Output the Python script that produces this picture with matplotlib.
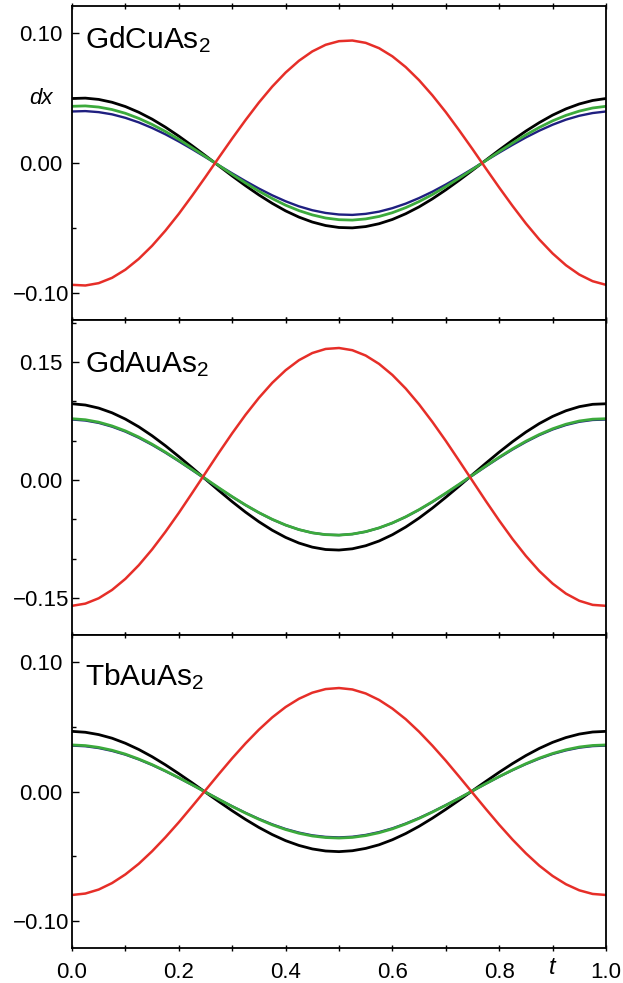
import numpy as np
import matplotlib
matplotlib.use("Agg")
import matplotlib.pyplot as plt
from matplotlib.ticker import MultipleLocator

plt.rcParams['font.family'] = ['Liberation Sans', 'DejaVu Sans']
plt.rcParams['mathtext.fontset'] = 'custom'
plt.rcParams['mathtext.rm'] = 'Liberation Sans'
plt.rcParams['mathtext.it'] = 'Liberation Sans:italic'

# ---- data ----
t = [0.000, 0.025, 0.050, 0.075, 0.100, 0.125, 0.150, 0.175, 0.200, 0.225,
     0.250, 0.275, 0.300, 0.325, 0.350, 0.375, 0.400, 0.425, 0.450, 0.475,
     0.500, 0.525, 0.550, 0.575, 0.600, 0.625, 0.650, 0.675, 0.700, 0.725,
     0.750, 0.775, 0.800, 0.825, 0.850, 0.875, 0.900, 0.925, 0.950, 0.975, 1.000]

compounds = ['GdCuAs$_\\mathregular{2}$', 'GdAuAs$_\\mathregular{2}$', 'TbAuAs$_\\mathregular{2}$']

# GdCuAs2
gdcu_black = [0.0497, 0.0500, 0.0490, 0.0468, 0.0435, 0.0391, 0.0338, 0.0276, 0.0207, 0.0133,
              0.0056, -0.0022, -0.0100, -0.0175, -0.0246, -0.0311, -0.0369, -0.0417, -0.0455, -0.0482,
              -0.0497, -0.0500, -0.0490, -0.0468, -0.0435, -0.0391, -0.0338, -0.0276, -0.0207, -0.0133,
              -0.0056, 0.0022, 0.0100, 0.0175, 0.0246, 0.0311, 0.0369, 0.0417, 0.0455, 0.0482, 0.0497]
gdcu_blue = [0.0397, 0.0400, 0.0392, 0.0375, 0.0348, 0.0313, 0.0270, 0.0221, 0.0166, 0.0107,
             0.0045, -0.0018, -0.0080, -0.0140, -0.0197, -0.0249, -0.0295, -0.0334, -0.0364, -0.0385,
             -0.0397, -0.0400, -0.0392, -0.0375, -0.0348, -0.0313, -0.0270, -0.0221, -0.0166, -0.0107,
             -0.0045, 0.0018, 0.0080, 0.0140, 0.0197, 0.0249, 0.0295, 0.0334, 0.0364, 0.0385, 0.0397]
gdcu_green = [0.0437, 0.0440, 0.0431, 0.0412, 0.0383, 0.0344, 0.0297, 0.0243, 0.0182, 0.0117,
              0.0050, -0.0019, -0.0088, -0.0154, -0.0217, -0.0274, -0.0325, -0.0367, -0.0400, -0.0424,
              -0.0437, -0.0440, -0.0431, -0.0412, -0.0383, -0.0344, -0.0297, -0.0243, -0.0182, -0.0117,
              -0.0050, 0.0019, 0.0088, 0.0154, 0.0217, 0.0274, 0.0325, 0.0367, 0.0400, 0.0424, 0.0437]
gdcu_red = [-0.0939, -0.0944, -0.0926, -0.0885, -0.0822, -0.0739, -0.0638, -0.0521, -0.0392, -0.0252,
            -0.0107, 0.0042, 0.0189, 0.0331, 0.0466, 0.0589, 0.0697, 0.0788, 0.0860, 0.0911,
            0.0939, 0.0944, 0.0926, 0.0885, 0.0822, 0.0739, 0.0638, 0.0521, 0.0392, 0.0252,
            0.0107, -0.0042, -0.0189, -0.0331, -0.0466, -0.0589, -0.0697, -0.0788, -0.0860, -0.0911, -0.0939]

# GdAuAs2
gdau_black = [0.0970, 0.0954, 0.0915, 0.0855, 0.0775, 0.0677, 0.0563, 0.0436, 0.0299, 0.0157,
              0.0011, -0.0134, -0.0275, -0.0408, -0.0530, -0.0638, -0.0729, -0.0801, -0.0853, -0.0883,
              -0.0890, -0.0874, -0.0835, -0.0775, -0.0695, -0.0597, -0.0483, -0.0356, -0.0219, -0.0077,
              0.0069, 0.0214, 0.0355, 0.0488, 0.0610, 0.0718, 0.0809, 0.0881, 0.0933, 0.0963, 0.0970]
gdau_blue = [0.0770, 0.0757, 0.0727, 0.0679, 0.0616, 0.0538, 0.0448, 0.0348, 0.0240, 0.0127,
             0.0012, -0.0103, -0.0214, -0.0319, -0.0415, -0.0501, -0.0573, -0.0630, -0.0671, -0.0694,
             -0.0700, -0.0687, -0.0657, -0.0609, -0.0546, -0.0468, -0.0378, -0.0278, -0.0170, -0.0057,
             0.0058, 0.0173, 0.0284, 0.0389, 0.0485, 0.0571, 0.0643, 0.0700, 0.0741, 0.0764, 0.0770]
gdau_green = [0.0780, 0.0767, 0.0736, 0.0688, 0.0625, 0.0547, 0.0456, 0.0355, 0.0246, 0.0133,
              0.0017, -0.0099, -0.0211, -0.0317, -0.0414, -0.0499, -0.0572, -0.0630, -0.0671, -0.0694,
              -0.0700, -0.0687, -0.0656, -0.0608, -0.0545, -0.0467, -0.0376, -0.0275, -0.0166, -0.0053,
              0.0063, 0.0179, 0.0291, 0.0397, 0.0494, 0.0579, 0.0652, 0.0710, 0.0751, 0.0774, 0.0780]
gdau_red = [-0.1599, -0.1571, -0.1503, -0.1397, -0.1256, -0.1083, -0.0882, -0.0658, -0.0418, -0.0165,
            0.0091, 0.0347, 0.0595, 0.0830, 0.1045, 0.1236, 0.1396, 0.1524, 0.1615, 0.1667,
            0.1679, 0.1651, 0.1583, 0.1477, 0.1336, 0.1163, 0.0962, 0.0738, 0.0498, 0.0245,
            -0.0011, -0.0267, -0.0515, -0.0750, -0.0965, -0.1156, -0.1316, -0.1444, -0.1535, -0.1587, -0.1599]

# TbAuAs2
tbau_black = [0.0465, 0.0458, 0.0440, 0.0412, 0.0373, 0.0325, 0.0269, 0.0206, 0.0138, 0.0067,
              -0.0006, -0.0078, -0.0149, -0.0216, -0.0278, -0.0333, -0.0380, -0.0417, -0.0444, -0.0460,
              -0.0465, -0.0458, -0.0440, -0.0412, -0.0373, -0.0325, -0.0269, -0.0206, -0.0138, -0.0067,
              0.0006, 0.0078, 0.0149, 0.0216, 0.0278, 0.0333, 0.0380, 0.0417, 0.0444, 0.0460, 0.0465]
tbau_blue = [0.0355, 0.0350, 0.0336, 0.0314, 0.0285, 0.0248, 0.0205, 0.0157, 0.0105, 0.0051,
             -0.0004, -0.0060, -0.0114, -0.0165, -0.0212, -0.0254, -0.0290, -0.0318, -0.0339, -0.0351,
             -0.0355, -0.0350, -0.0336, -0.0314, -0.0285, -0.0248, -0.0205, -0.0157, -0.0105, -0.0051,
             0.0004, 0.0060, 0.0114, 0.0165, 0.0212, 0.0254, 0.0290, 0.0318, 0.0339, 0.0351, 0.0355]
tbau_green = [0.0360, 0.0355, 0.0341, 0.0319, 0.0289, 0.0251, 0.0208, 0.0159, 0.0107, 0.0052,
              -0.0005, -0.0061, -0.0116, -0.0167, -0.0215, -0.0258, -0.0294, -0.0323, -0.0344, -0.0356,
              -0.0360, -0.0355, -0.0341, -0.0319, -0.0289, -0.0251, -0.0208, -0.0159, -0.0107, -0.0052,
              0.0005, 0.0061, 0.0116, 0.0167, 0.0215, 0.0258, 0.0294, 0.0323, 0.0344, 0.0356, 0.0360]
tbau_red = [-0.0800, -0.0789, -0.0758, -0.0708, -0.0641, -0.0559, -0.0462, -0.0354, -0.0238, -0.0115,
            0.0010, 0.0135, 0.0257, 0.0372, 0.0478, 0.0573, 0.0653, 0.0717, 0.0764, 0.0792,
            0.0800, 0.0789, 0.0758, 0.0708, 0.0641, 0.0559, 0.0462, 0.0354, 0.0238, 0.0115,
            -0.0010, -0.0135, -0.0257, -0.0372, -0.0478, -0.0573, -0.0653, -0.0717, -0.0764, -0.0792, -0.0800]

panels = [
    (gdcu_black, gdcu_blue, gdcu_green, gdcu_red),
    (gdau_black, gdau_blue, gdau_green, gdau_red),
    (tbau_black, tbau_blue, tbau_green, tbau_red),
]
ylims = [(-0.121, 0.121), (-0.197, 0.2035), (-0.121, 0.121)]
yticks = [[-0.10, 0.00, 0.10], [-0.15, 0.00, 0.15], [-0.10, 0.00, 0.10]]
ytick_labels = [['\u22120.10', '0.00', '0.10'], ['\u22120.15', '0.00', '0.15'], ['\u22120.10', '0.00', '0.10']]
xtick_labels = ['0.0', '', '0.2', '', '0.4', '', '0.6', '', '0.8', '', '1.0']

# ---- figure ----
W, H = 623, 983
fig = plt.figure(figsize=(W / 100, H / 100), dpi=100)
left, right = 72, 606
bounds = [(6, 320), (320, 635), (635, 948)]

colors = ['#000000', '#1f1f80', '#3caa3c', '#e62e28']
widths = [2.0, 1.7, 2.0, 1.8]

for i, (top, bot) in enumerate(bounds):
    ax = fig.add_axes([left / W, 1 - bot / H, (right - left) / W, (bot - top) / H])
    for y, c, lw in zip(panels[i], colors, widths):
        ax.plot(t, y, color=c, lw=lw)
    ax.set_xlim(0, 1)
    ax.set_ylim(*ylims[i])
    ax.set_yticks(yticks[i])
    ax.set_yticklabels(ytick_labels[i])
    for lab in ax.get_yticklabels():
        lab.set_horizontalalignment('center')
    ax.yaxis.set_minor_locator(MultipleLocator(0.05))
    ax.set_xticks(np.arange(0, 1.0001, 0.1))
    ax.tick_params(axis='y', which='major', direction='in', length=5, width=1, labelsize=16, pad=22.5)
    ax.tick_params(axis='y', which='minor', direction='in', length=3, width=1)
    ax.tick_params(axis='x', which='major', direction='inout', length=4, width=1,
                   top=True, bottom=True, labelsize=16, pad=8)
    for s in ax.spines.values():
        s.set_linewidth(1.3)
    if i < 2:
        ax.tick_params(axis='x', labelbottom=False)
    else:
        ax.set_xticklabels(xtick_labels)
        ax.text(0.9, -0.026, 't', transform=ax.transAxes, ha='center', va='top',
                fontsize=17, style='italic')
    ytext = [0.866, 0.835, 0.841][i]
    ax.text(13 / (right - left), ytext, compounds[i], transform=ax.transAxes,
            ha='left', va='baseline', fontsize=21.5)
    if i == 0:
        ax.text(-31 / (right - left), 0.05, 'dx', transform=ax.get_yaxis_transform(),
                ha='center', va='center', fontsize=16, style='italic')

fig.savefig('out.png', dpi=100)
